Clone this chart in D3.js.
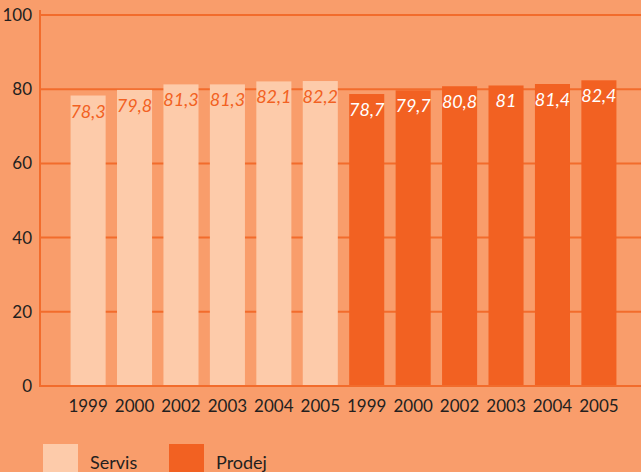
<!DOCTYPE html>
<html><head><meta charset="utf-8">
<script src="https://cdn.jsdelivr.net/npm/d3@7"></script>
<style>
html,body{margin:0;padding:0;background:#F99D6B;}
svg{display:block;}
text{font-family:Lato,"Open Sans",sans-serif;}
</style></head>
<body>
<script>
const years = ["1999","2000","2002","2003","2004","2005"];
const seriesNames = ["Servis","Prodej"];
const servisValues = [78.3,79.8,81.3,81.3,82.1,82.2];
const prodejValues = [78.7,79.7,80.8,81,81.4,82.4];
const yTicks = [0,20,40,60,80,100];

const W=641,H=472;
const colors = {Servis:"#FDCBAA", Prodej:"#F26122"};
const labelColors = {Servis:"#F26122", Prodej:"#FFFFFF"};

const data = [];
seriesNames.forEach((s,si)=>{
  const vals = si===0?servisValues:prodejValues;
  years.forEach((y,i)=>data.push({series:s, year:y, value:vals[i], key:s+"-"+y}));
});

const svg = d3.select("body").append("svg").attr("width",W).attr("height",H);
svg.append("rect").attr("width",W).attr("height",H).attr("fill","#F99D6B");

const y = d3.scaleLinear().domain([0,100]).range([386,15]);
const x = d3.scaleBand().domain(data.map(d=>d.key)).range([65,622]).paddingInner(0.245).paddingOuter(0.12);

// gridlines
svg.append("g").selectAll("line").data(yTicks).join("line")
  .attr("x1",40).attr("x2",W).attr("y1",d=>y(d)).attr("y2",d=>y(d))
  .attr("stroke","#F26C2C").attr("stroke-width",2);

// bars
svg.append("g").selectAll("rect").data(data).join("rect")
  .attr("x",d=>x(d.key)).attr("width",x.bandwidth())
  .attr("y",d=>y(d.value)).attr("height",d=>y(0)-y(d.value))
  .attr("fill",d=>colors[d.series]);

// baseline over bars
svg.append("line").attr("x1",40).attr("x2",W).attr("y1",y(0)).attr("y2",y(0))
  .attr("stroke","#F26C2C").attr("stroke-width",2);

// y axis line
svg.append("line").attr("x1",40).attr("x2",40).attr("y1",10).attr("y2",y(0)+1)
  .attr("stroke","#F26C2C").attr("stroke-width",2);

// value labels
svg.append("g").selectAll("text").data(data).join("text")
  .attr("x",d=>x(d.key)+x.bandwidth()/2).attr("y",d=>y(d.value)+22)
  .attr("text-anchor","middle").attr("font-size",18).attr("font-style","italic")
  .attr("fill",d=>labelColors[d.series])
  .text(d=>String(d.value).replace(".",","));

// x tick labels
svg.append("g").selectAll("text").data(data).join("text")
  .attr("x",d=>x(d.key)+x.bandwidth()/2).attr("y",412)
  .attr("text-anchor","middle").attr("font-size",17).attr("fill","#231F20")
  .text(d=>d.year);

// y tick labels
svg.append("g").selectAll("text").data(yTicks).join("text")
  .attr("x",32).attr("y",d=>y(d)+6).attr("text-anchor","end")
  .attr("font-size",17).attr("fill","#231F20").text(d=>d);

// legend
const leg = svg.append("g").selectAll("g").data(seriesNames).join("g")
  .attr("transform",(d,i)=>`translate(${43+i*126},444)`);
leg.append("rect").attr("width",35).attr("height",30).attr("fill",d=>colors[d]);
leg.append("text").attr("x",47).attr("y",25).attr("font-size",18).attr("fill","#231F20").text(d=>d);
</script>
</body></html>
